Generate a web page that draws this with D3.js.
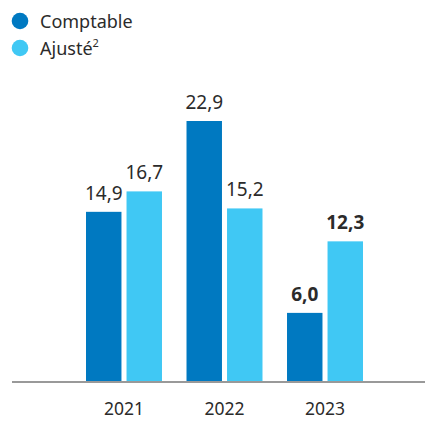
<!DOCTYPE html>
<html><head><meta charset="utf-8">
<script src="https://cdn.jsdelivr.net/npm/d3@7"></script>
<style>body{margin:0;background:#fff}svg{display:block}text{font-family:"Noto Sans",sans-serif;font-stretch:82%;fill:#2b2b2b}</style>
</head><body><svg id="c" width="425" height="421"></svg>
<script>
const years = ["2021","2022","2023"];
const series = ["Comptable","Ajusté"];
const comptable = [14.9, 22.9, 6.0];
const ajuste = [16.7, 15.2, 12.3];
const labelsComptable = ["14,9","22,9","6,0"];
const labelsAjuste = ["16,7","15,2","12,3"];
const boldYears = ["2023"];
const colors = ["#0079C1","#40C8F4"];

const svg = d3.select("#c");
const baseline = 381;
const x0 = d3.scaleBand().domain(years).range([86, 363]).paddingInner(0.244).paddingOuter(0);
const x1 = d3.scaleBand().domain(series).range([0, x0.bandwidth()]).paddingInner(0.125);
const y = d3.scaleLinear().domain([0, 22.9]).range([baseline, 121]);

const data = years.map((yr,i)=>({yr, vals:[
  {s:"Comptable", v:comptable[i], l:labelsComptable[i]},
  {s:"Ajusté", v:ajuste[i], l:labelsAjuste[i]}]}));

const g = svg.selectAll("g.grp").data(data).join("g").attr("transform", d=>`translate(${x0(d.yr)},0)`);
g.selectAll("rect").data(d=>d.vals).join("rect")
  .attr("x", d=>x1(d.s)).attr("width", x1.bandwidth())
  .attr("y", d=>y(d.v)).attr("height", d=>baseline - y(d.v))
  .attr("fill", (d,i)=>colors[i]);
g.selectAll("text.v").data(d=>d.vals.map(v=>({...v, yr:d.yr}))).join("text").attr("class","v")
  .attr("x", d=>x1(d.s)+x1.bandwidth()/2).attr("y", d=>y(d.v)-12)
  .attr("text-anchor","middle").attr("font-size",19)
  .attr("font-weight", d=>boldYears.includes(d.yr)?"bold":"normal")
  .text(d=>d.l);

svg.append("line").attr("x1",12).attr("x2",425).attr("y1",baseline+1).attr("y2",baseline+1)
  .attr("stroke","#999").attr("stroke-width",2);

const xAxis = svg.append("g").attr("transform",`translate(0,${baseline})`)
  .call(d3.axisBottom(x0).tickSize(0).tickPadding(0));
xAxis.select(".domain").remove();
xAxis.selectAll("text").attr("dy",null).attr("y",34).attr("font-size",17.5).style("fill","#2b2b2b")
  .style("font-family",'"Noto Sans",sans-serif').style("font-stretch","82%");

const leg = svg.selectAll("g.leg").data(series).join("g").attr("class","leg")
  .attr("transform",(d,i)=>`translate(20,${21+i*27})`);
leg.append("circle").attr("r",8.3).attr("fill",(d,i)=>colors[i]);
const lt = leg.append("text").attr("x",20).attr("y",7).attr("font-size",18).text(d=>d);
lt.filter(d=>d==="Ajusté").append("tspan").attr("font-size",11).attr("dy",-8).text("2");
</script></body></html>
